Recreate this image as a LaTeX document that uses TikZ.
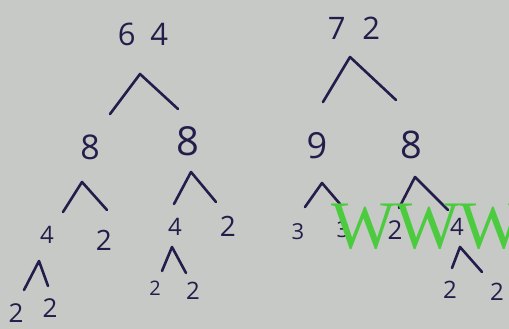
\documentclass[tikz,border=0pt]{standalone}
\usepackage{fontspec}
\setmainfont{Open Sans}
\newfontfamily\wmfont{Liberation Serif}
\definecolor{board}{HTML}{C6C9C5}
\definecolor{ink}{HTML}{241D4C}
\definecolor{wm}{HTML}{4CCB3F}
\begin{document}
\begin{tikzpicture}[x=1pt,y=-1pt,
  num/.style={text=ink,inner sep=0pt,font=\fontsize{#1}{#1}\selectfont},
  num/.default=28,
  caret/.style={draw=ink,line width=2.6pt,line cap=round,line join=round}]
\fill[board] (0,0) rectangle (509,329);
\useasboundingbox (0,0) rectangle (509,329);
\begin{scope}
\clip (0,0) rectangle (509,329);
% left tree: 64
\node[num=31] (n64) at (143,34) {6\hspace{15pt}4};
\coordinate (a1t) at (140,74); \coordinate (a1l) at (110,114); \coordinate (a1r) at (178,109);
\draw[caret] (a1l) -- (a1t) -- (a1r);
\node[num=34] (n8a) at (90,147) {8};
\node[num=40] (n8b) at (188,141) {8};
\coordinate (a2t) at (82,182); \coordinate (a2l) at (63,212); \coordinate (a2r) at (107,210);
\draw[caret] (a2l) -- (a2t) -- (a2r);
\node[num=24] (n4a) at (47,235) {4};
\node[num=28] (n2a) at (104,240) {2};
\coordinate (a3t) at (39,261); \coordinate (a3l) at (24,290); \coordinate (a3r) at (48,286);
\draw[caret] (a3l) -- (a3t) -- (a3r);
\node[num=26] (n2b) at (16,313) {2};
\node[num=26] (n2c) at (50,308) {2};
\coordinate (a4t) at (191,172); \coordinate (a4l) at (174,204); \coordinate (a4r) at (216,202);
\draw[caret] (a4l) -- (a4t) -- (a4r);
\node[num=24] (n4b) at (175,227) {4};
\node[num=28] (n2d) at (228,226) {2};
\coordinate (a5t) at (172,247); \coordinate (a5l) at (162,271); \coordinate (a5r) at (186,273);
\draw[caret] (a5l) -- (a5t) -- (a5r);
\node[num=20] (n2e) at (155,288) {2};
\node[num=24] (n2f) at (193,291) {2};
% right tree: 72
\node[num=31] (n72) at (354,28) {7\hspace{17pt}2};
\coordinate (b1t) at (350,57); \coordinate (b1l) at (323,102); \coordinate (b1r) at (396,100);
\draw[caret] (b1l) -- (b1t) -- (b1r);
\node[num=36] (n9) at (317,146) {9};
\node[num=38] (n8c) at (411,145) {8};
\coordinate (b2t) at (322,183); \coordinate (b2l) at (305,207); \coordinate (b2r) at (340,204);
\draw[caret] (b2l) -- (b2t) -- (b2r);
\node[num=22] (n3a) at (298,232) {3};
\node[num=22] (n3b) at (343,230) {3};
\coordinate (b3t) at (415,177); \coordinate (b3l) at (399,208); \coordinate (b3r) at (448,210);
\draw[caret] (b3l) -- (b3t) -- (b3r);
\node[num=26] (n2g) at (395,230) {2};
\node[num=24] (n4c) at (457,227) {4};
\coordinate (b4t) at (460,247); \coordinate (b4l) at (452,268); \coordinate (b4r) at (482,272);
\draw[caret] (b4l) -- (b4t) -- (b4r);
\node[num=24] (n2h) at (450,290) {2};
\node[num=24] (n2i) at (497,292) {2};
% watermark
\node[anchor=base west,inner sep=0pt,text=wm,font=\wmfont\fontsize{68}{68}\selectfont] (wmk) at (331,248) {WWW};
\end{scope}
\end{tikzpicture}
\end{document}
